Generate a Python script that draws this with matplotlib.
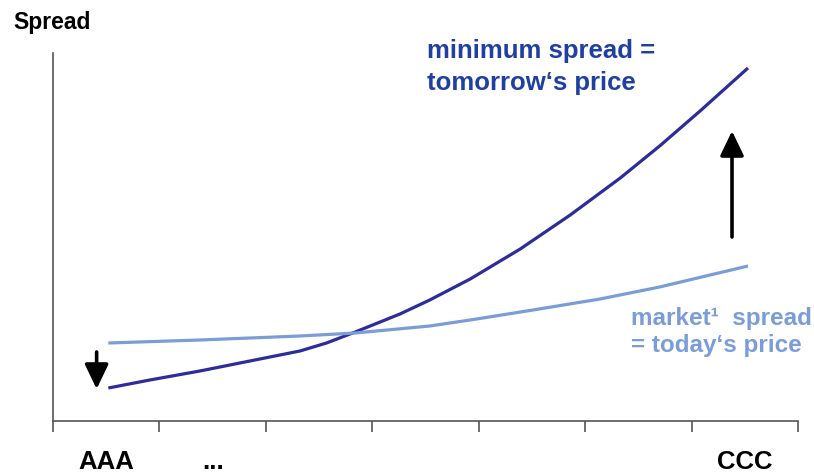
import numpy as np
import matplotlib
matplotlib.use("Agg")
import matplotlib.pyplot as plt

plt.rcParams['font.family'] = ['Liberation Sans', 'DejaVu Sans']

# rating buckets (7 bins, labels only on some)
bin_edges = np.arange(0, 8)
label_pos = [0.5, 1.5, 6.5]
label_txt = ['AAA', '...', 'CCC']

# minimum spread = tomorrow's price
min_x = [0.52, 0.91, 1.38, 1.85, 2.32, 2.57, 2.84, 3.26, 3.54, 3.92, 4.39, 4.86, 5.33, 5.70, 6.08, 6.53]
min_y = [33, 41, 50, 60, 70, 78, 89, 107, 121, 142, 172, 206, 243, 275, 310, 353]

# market spread = today's price
mkt_x = [0.52, 1.38, 2.32, 2.84, 3.54, 3.92, 4.51, 5.14, 5.70, 6.53]
mkt_y = [78, 81, 85, 88, 95, 101, 111, 122, 134, 155]

dark = '#2c2c9b'
light = '#7a9dd8'
txt_dark = '#1f3fa3'

fig = plt.figure(figsize=(8.14, 4.73), dpi=100)
ax = fig.add_axes([53 / 814, 1 - 421 / 473, 745 / 814, 368 / 473])

ax.plot(min_x, min_y, color=dark, lw=2.3, solid_capstyle='butt', solid_joinstyle='round')
ax.plot(mkt_x, mkt_y, color=light, lw=2.3, solid_capstyle='butt', solid_joinstyle='round')

ax.set_xlim(0, 7)
ax.set_ylim(0, 368)

for s in ['top', 'right']:
    ax.spines[s].set_visible(False)
for s in ['left', 'bottom']:
    ax.spines[s].set_color('#555555')
    ax.spines[s].set_linewidth(1.2)

ax.set_yticks([])
ax.set_xticks(bin_edges)
ax.set_xticklabels([])
ax.tick_params(axis='x', which='major', direction='out', length=8, width=1.2, color='#555555')
ax.set_xticks(label_pos, minor=True)
ax.set_xticklabels(label_txt, minor=True, fontsize=18.5, fontweight='bold')
ax.tick_params(axis='x', which='minor', length=0, pad=21)

# arrows
arr = dict(arrowstyle='-|>,head_width=0.36,head_length=0.75', mutation_scale=20,
           color='black', lw=2.6, shrinkA=0, shrinkB=0)
ax.annotate('', xy=(0.41, 32), xytext=(0.41, 69), arrowprops=arr)
ax.annotate('', xy=(6.38, 290), xytext=(6.38, 184), arrowprops=arr)

fig.text(13 / 814, 1 - 23 / 473, 'Spread', fontsize=16.5, fontweight='bold', va='center', ha='left')
fig.text(427 / 814, 1 - 67 / 473, 'minimum spread =\ntomorrow\u2018s price', fontsize=18.5, fontweight='bold',
         color=txt_dark, va='center', ha='left', linespacing=1.4)
fig.text(631 / 814, 1 - 332 / 473, 'market\u00b9  spread\n= today\u2018s price', fontsize=17.5, fontweight='bold',
         color=light, va='center', ha='left', linespacing=1.2)

fig.savefig('out.png', dpi=100, facecolor='white')
